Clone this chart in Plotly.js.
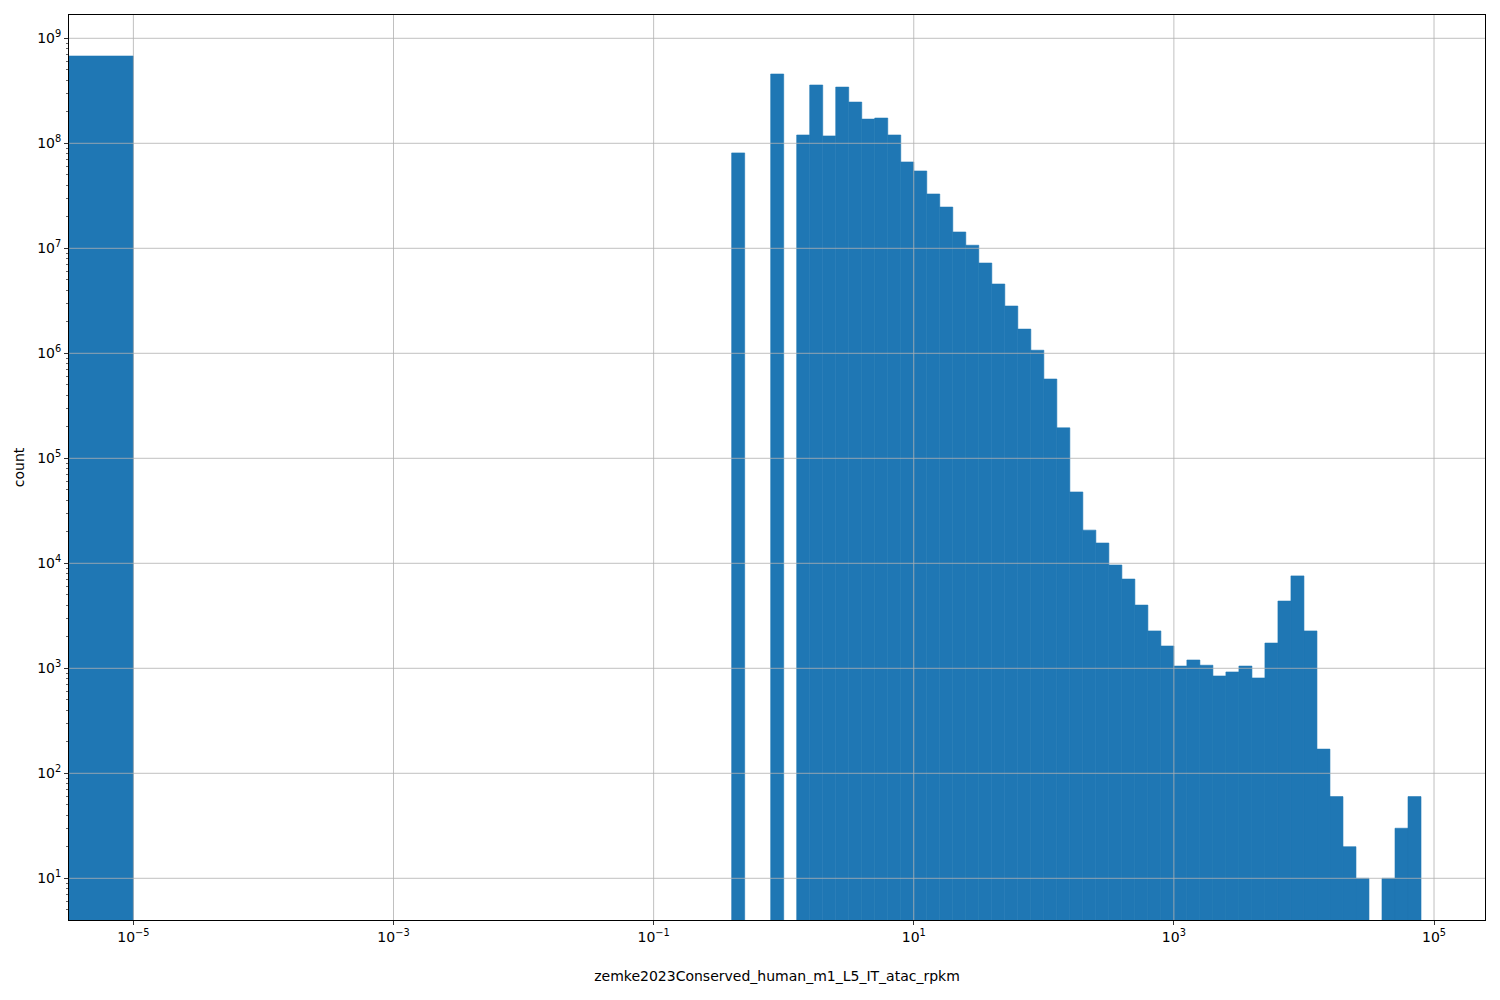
<!DOCTYPE html>
<html>
<head>
<meta charset="utf-8">
<script src="https://cdn.plot.ly/plotly-3.0.1.min.js"></script>
<style>html,body{margin:0;padding:0;background:#fff;}#chart{width:1500px;height:1000px;}</style>
</head>
<body>
<div id="chart"></div>
<script>
// Histogram bins (log10 of bin edges). The first bin starts at 0 (off the log axis),
// represented here by an exponent left of the visible range.
const binLoExp = [-6, -0.4, -0.1, 0.1, 0.2, 0.3, 0.4, 0.5, 0.6, 0.7, 0.8, 0.9, 1.0, 1.1, 1.2, 1.3, 1.4, 1.5, 1.6, 1.7, 1.8, 1.9, 2.0, 2.1, 2.2, 2.3, 2.4, 2.5, 2.6, 2.7, 2.8, 2.9, 3.0, 3.1, 3.2, 3.3, 3.4, 3.5, 3.6, 3.7, 3.8, 3.9, 4.0, 4.1, 4.2, 4.3, 4.4, 4.6, 4.7, 4.8];
const binHiExp = [-5, -0.3, 0.0, 0.2, 0.3, 0.4, 0.5, 0.6, 0.7, 0.8, 0.9, 1.0, 1.1, 1.2, 1.3, 1.4, 1.5, 1.6, 1.7, 1.8, 1.9, 2.0, 2.1, 2.2, 2.3, 2.4, 2.5, 2.6, 2.7, 2.8, 2.9, 3.0, 3.1, 3.2, 3.3, 3.4, 3.5, 3.6, 3.7, 3.8, 3.9, 4.0, 4.1, 4.2, 4.3, 4.4, 4.5, 4.7, 4.8, 4.9];
const counts = [6.78e8, 8.1e7, 4.57e8, 1.2e8, 3.59e8, 1.175e8, 3.43e8, 2.47e8, 1.70e8, 1.74e8, 1.2e8, 6.64e7, 5.45e7, 3.29e7, 2.47e7, 1.43e7, 1.07e7, 7.24e6, 4.57e6, 2.82e6, 1.70e6, 1.07e6, 5.69e5, 1.95e5, 4.78e4, 2.07e4, 1.56e4, 9630, 7080, 4000, 2270, 1630, 1050, 1200, 1070, 845, 923, 1050, 809, 1740, 4370, 7590, 2270, 170, 60, 20, 10, 10, 30, 60];

const xTickExp = [-5, -3, -1, 1, 3, 5];
const yTickExp = [1, 2, 3, 4, 5, 6, 7, 8, 9];
const xLabel = 'zemke2023Conserved_human_m1_L5_IT_atac_rpkm';
const yLabel = 'count';

const xRange = [-5.495, 5.392];
const yRangeLog = [0.603, 9.222];

const centers = binLoExp.map((lo, i) => (lo + binHiExp[i]) / 2);
const widths = binLoExp.map((lo, i) => binHiExp[i] - lo);

const sup = n => '10<sup>' + (n < 0 ? '\u2212' + (-n) : n) + '</sup>';

const minorVals = [];
for (let e = 0; e <= 9; e++) for (let k = 2; k <= 9; k++) minorVals.push(k * Math.pow(10, e));

const gridColor = '#b0b0b0';
const shapes = [];
xTickExp.forEach(v => shapes.push({type: 'line', layer: 'above', xref: 'x', yref: 'paper', x0: v, x1: v, y0: 0, y1: 1, line: {color: gridColor, width: 0.8}}));
yTickExp.forEach(e => shapes.push({type: 'line', layer: 'above', xref: 'paper', yref: 'y', x0: 0, x1: 1, y0: Math.pow(10, e), y1: Math.pow(10, e), line: {color: gridColor, width: 0.8}}));

const font = {family: 'DejaVu Sans, sans-serif', size: 14, color: '#000'};

Plotly.newPlot('chart', [{
  type: 'bar',
  x: centers,
  y: counts,
  width: widths,
  marker: {color: '#1f77b4', line: {width: 0.6, color: '#1f77b4'}},
  hoverinfo: 'skip'
}], {
  width: 1500, height: 1000,
  margin: {l: 69, r: 15, t: 15, b: 80},
  paper_bgcolor: '#fff', plot_bgcolor: '#fff',
  font: font,
  showlegend: false,
  shapes: shapes,
  xaxis: {
    type: 'linear', range: xRange, autorange: false,
    tickmode: 'array', tickvals: xTickExp, ticktext: xTickExp.map(sup),
    ticks: 'outside', ticklen: 4, tickwidth: 0.8, tickcolor: '#000',
    showgrid: false, zeroline: false,
    showline: true, mirror: true, linecolor: '#000', linewidth: 1,
    tickfont: font,
    title: {text: xLabel, font: font, standoff: 27}
  },
  yaxis: {
    type: 'log', range: yRangeLog, autorange: false,
    tickmode: 'array', tickvals: yTickExp.map(e => Math.pow(10, e)), ticktext: yTickExp.map(sup),
    ticks: 'outside', ticklen: 4, tickwidth: 0.8, tickcolor: '#000',
    minor: {tickmode: 'array', tickvals: minorVals, ticks: 'outside', ticklen: 2, tickwidth: 0.6, tickcolor: '#000', showgrid: false},
    showgrid: false, zeroline: false,
    showline: true, mirror: true, linecolor: '#000', linewidth: 1,
    tickfont: font,
    title: {text: yLabel, font: font, standoff: 9}
  }
}, {staticPlot: true});
</script>
</body>
</html>
